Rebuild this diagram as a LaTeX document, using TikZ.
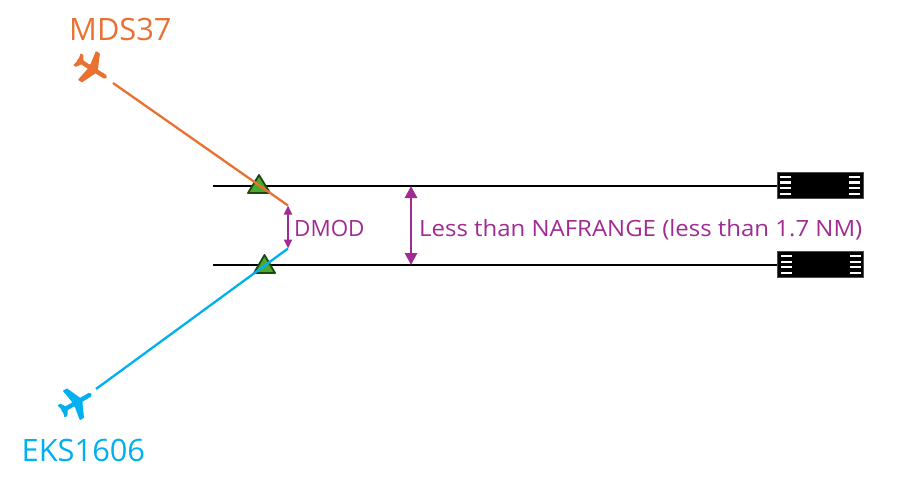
\documentclass[tikz,border=0pt]{standalone}
\usepackage{fontspec}
\setmainfont{Open Sans}
\newfontfamily\widesans[FakeStretch=1.07]{Open Sans}
\usetikzlibrary{arrows.meta}
\definecolor{aorange}{HTML}{E97132}
\definecolor{ablue}{HTML}{00B0F0}
\definecolor{apurple}{HTML}{A02B93}
\definecolor{agreen}{HTML}{4EA72E}
\definecolor{adkgreen}{HTML}{1A4A10}
\tikzset{
  rwyline/.style={line width=2.7pt, black},
  track/.style={line width=2.3pt},
  rwybox/.style={draw=black!70, fill=black, line width=0.6pt, minimum width=86pt, minimum height=26pt, inner sep=0pt},
  stripe/.style={fill=white},
  dimarrow/.style={apurple, line width=2.8pt, {Triangle[length=12pt,width=12pt]}-{Triangle[length=12pt,width=12pt]}},
  smallarrow/.style={apurple, line width=2.4pt, {Triangle[length=9pt,width=8pt]}-{Triangle[length=9pt,width=8pt]}},
  bigtxt/.style={inner sep=0pt, anchor=base west, font=\fontsize{30.8}{36}\selectfont},
  dimtxt/.style={inner sep=0pt, anchor=base west, text=apurple, font=\fontsize{22.4}{27}\selectfont},
  tri/.style={fill=agreen, draw=adkgreen, line width=1.8pt, line join=round},
  plane/.pic={
    \fill[rounded corners=0.6pt] (17.5,0) -- (15.5,-2.2) -- (5.5,-2.2) -- (-1.2,-17) -- (-6,-17)
      -- (-3.5,-2.2) -- (-11.5,-2.2) -- (-14.5,-7) -- (-17.8,-7) -- (-16.5,-1.8) -- (-17.2,0)
      -- (-16.5,1.8) -- (-17.8,7) -- (-14.5,7) -- (-11.5,2.2) -- (-3.5,2.2) -- (-6,17)
      -- (-1.2,17) -- (5.5,2.2) -- (15.5,2.2) -- cycle;
  }
}
\begin{document}
\begin{tikzpicture}[x=1pt,y=-1pt]
\useasboundingbox (0,0) rectangle (900,492);

% runways
\node[rwybox] (rwyA) at (820,185.3) {};
\node[rwybox] (rwyB) at (820.5,264.5) {};
\foreach \r in {rwyA,rwyB}{
  \foreach \dy in {-8.4,-2.8,2.8,8.4}{
    \fill[stripe] ([shift={(-40,\dy-1.1)}]\r.center) rectangle ([shift={(-29,\dy+1.1)}]\r.center);
    \fill[stripe] ([shift={(29,\dy-1.1)}]\r.center) rectangle ([shift={(40,\dy+1.1)}]\r.center);
  }
}
\coordinate (lineAstart) at (213,186);
\coordinate (lineBstart) at (213,265);
\draw[rwyline] (lineAstart) -- (lineAstart -| rwyA.west);
\draw[rwyline] (lineBstart) -- (lineBstart -| rwyB.west);

% triangles
\draw[tri] (259,175) -- (270,193) -- (248,193) -- cycle;
\draw[tri] (264.5,255) -- (275,273) -- (254,273) -- cycle;

% tracks
\coordinate (mdsstart) at (113,83);
\coordinate (dmodtop) at (288,205.5);
\coordinate (eksstart) at (96,389);
\coordinate (dmodbot) at (288,248.5);
\draw[track, aorange] (mdsstart) -- (dmodtop);
\draw[track, ablue] (eksstart) -- (dmodbot);

% planes
\pic[aorange, rotate=-32] at (92,68.6) {plane};
\pic[ablue, rotate=30] at (76.5,402.5) {plane};

% dimension arrows
\draw[smallarrow] (dmodtop) -- (dmodbot);
\coordinate (bigtop) at (411,186);
\coordinate (bigbot) at (411,265);
\draw[dimarrow] (bigtop) -- (bigbot);

% labels
\node[bigtxt, text=aorange] (mdslabel) at (69,40.7) {MDS37};
\node[bigtxt, text=ablue] (ekslabel) at (21.5,461.7) {EKS1606};
\node[dimtxt] (dmodlabel) at (294,236.7) {DMOD};
\node[dimtxt, font=\widesans\fontsize{22.4}{27}\selectfont] (naflabel) at (419,236.7) {Less than NAFRANGE (less than 1.7 NM)};
\end{tikzpicture}
\end{document}
